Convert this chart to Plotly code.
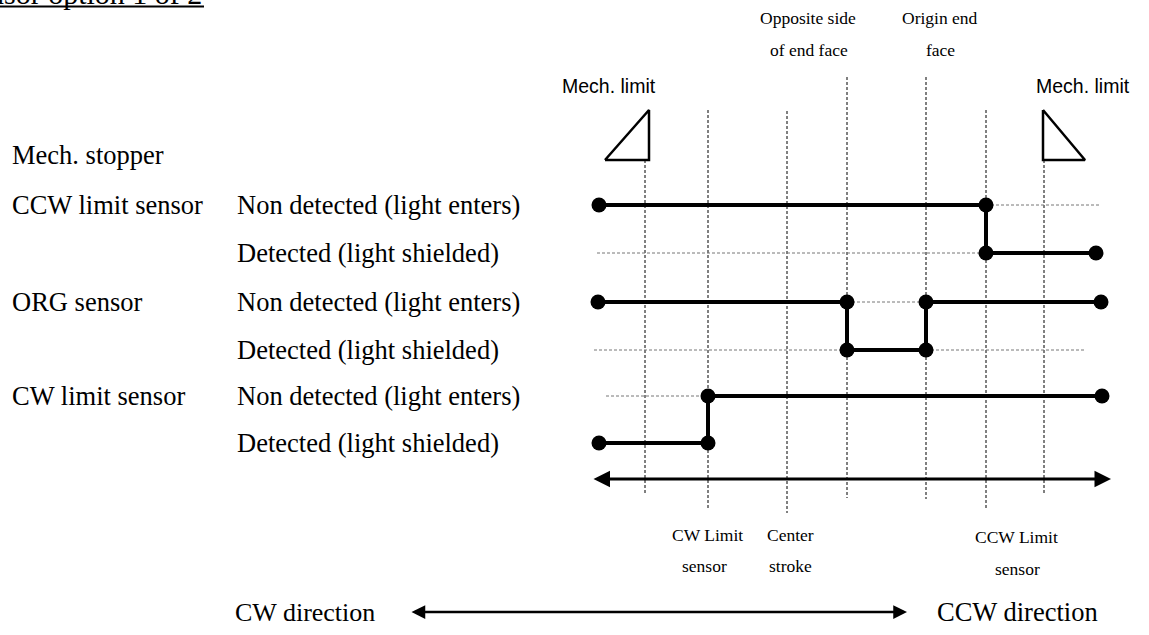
import plotly.graph_objects as go

# ---------------- data ----------------
title_text = "Sensor option 1 of 2"
row_labels = ["Mech. stopper", "CCW limit sensor", "ORG sensor", "CW limit sensor"]
row_label_y = [155, 205, 302, 396]
state_labels = ["Non detected (light enters)", "Detected (light shielded)"]

# reference positions along the stroke (vertical dashed lines)
ref_x = [645, 708, 787, 847, 926, 986, 1044]
ref_top = [160, 110, 111, 77, 77, 110, 160]
ref_bottom = [494, 509, 513, 498, 499, 509, 494]

# level of each sensor state
level_nd = [205, 302, 396]   # Non detected
level_d = [253, 350, 443]    # Detected

# waveforms: breakpoints along the stroke and state (1 = non detected, 0 = detected)
ccw_x = [599, 986, 986, 1096]
ccw_s = [1, 1, 0, 0]
org_x = [598, 847, 847, 926, 926, 1101]
org_s = [1, 1, 0, 0, 1, 1]
cw_x = [599, 708, 708, 1102]
cw_s = [0, 0, 1, 1]

# dotted guide lines: (sensor index, state, x from, x to)
guides = [(0, 1, 986, 1100), (0, 0, 597, 986),
          (1, 1, 847, 926), (1, 0, 594, 847), (1, 0, 926, 1086),
          (2, 1, 606, 708)]

# mechanical stopper triangles
tri_left_x = [605, 649, 649, 605]
tri_left_y = [160, 160, 110, 160]
tri_right_x = [1043, 1043, 1085, 1043]
tri_right_y = [110, 160, 160, 110]

top_labels = [("Opposite side", 808, 18), ("of end face", 809, 50),
              ("Origin end", 940, 18), ("face", 940, 50)]
bottom_labels = [("CW Limit", 707, 535), ("sensor", 704, 566),
                 ("Center", 790, 535), ("stroke", 790, 566),
                 ("CCW Limit", 1016, 537), ("sensor", 1017, 569)]
mech_labels = [("Mech. limit", 609, 86), ("Mech. limit", 1083, 86)]

stroke_arrow = (592, 1111, 479)
dir_arrow = (410, 907, 612)

SERIF = "Liberation Serif"
SANS = "Liberation Sans"

fig = go.Figure()

# vertical dashed reference lines
vx, vy = [], []
for x, t, b in zip(ref_x, ref_top, ref_bottom):
    vx += [x, x, None]
    vy += [t, b, None]
fig.add_trace(go.Scatter(x=vx, y=vy, mode="lines",
                         line=dict(color="black", width=1, dash="3px,2px"),
                         hoverinfo="skip"))

# horizontal gray dotted guides
gx, gy = [], []
for si, st, x0, x1 in guides:
    yy = level_nd[si] if st == 1 else level_d[si]
    gx += [x0, x1, None]
    gy += [yy, yy, None]
fig.add_trace(go.Scatter(x=gx, y=gy, mode="lines",
                         line=dict(color="#777777", width=1, dash="3px,2px"),
                         hoverinfo="skip"))

# triangles
for tx, ty in [(tri_left_x, tri_left_y), (tri_right_x, tri_right_y)]:
    fig.add_trace(go.Scatter(x=tx, y=ty, mode="lines", fill="toself",
                             fillcolor="white",
                             line=dict(color="black", width=2.5),
                             hoverinfo="skip"))

# waveforms
for i, (wx, ws) in enumerate([(ccw_x, ccw_s), (org_x, org_s), (cw_x, cw_s)]):
    wy = [level_nd[i] if s == 1 else level_d[i] for s in ws]
    fig.add_trace(go.Scatter(x=wx, y=wy, mode="lines+markers",
                             line=dict(color="black", width=4),
                             marker=dict(color="black", size=15),
                             hoverinfo="skip"))

ann = []
BIG = 26.5
SMALL = 17.5
# left labels
for txt, y in zip(row_labels, row_label_y):
    ann.append(dict(text=txt, x=10, y=y, xanchor="left", yanchor="middle",
                    font=dict(family=SERIF, size=BIG, color="black")))
for i in range(3):
    ann.append(dict(text=state_labels[0], x=235, y=level_nd[i], xanchor="left",
                    yanchor="middle", font=dict(family=SERIF, size=BIG, color="black")))
    ann.append(dict(text=state_labels[1], x=235, y=level_d[i], xanchor="left",
                    yanchor="middle", font=dict(family=SERIF, size=BIG, color="black")))
for txt, x, y in top_labels + bottom_labels:
    ann.append(dict(text=txt, x=x, y=y, xanchor="center", yanchor="middle",
                    font=dict(family=SERIF, size=SMALL, color="black")))
for txt, x, y in mech_labels:
    ann.append(dict(text=txt, x=x, y=y, xanchor="center", yanchor="middle",
                    font=dict(family=SANS, size=19.5, color="black")))
ann.append(dict(text="CW direction", x=233, y=dir_arrow[2], xanchor="left",
                yanchor="middle", font=dict(family=SERIF, size=26, color="black")))
ann.append(dict(text="CCW direction", x=935, y=dir_arrow[2], xanchor="left",
                yanchor="middle", font=dict(family=SERIF, size=26.5, color="black")))
ann.append(dict(text=title_text, x=204, y=12, xanchor="right", yanchor="bottom",
                font=dict(family=SERIF, size=30, color="black")))
for a in ann:
    a.update(xref="x", yref="y", showarrow=False)

# arrows
for (x0, x1, y), w in [(stroke_arrow, 3), (dir_arrow, 2.5)]:
    ann.append(dict(x=x1, y=y, ax=x0, ay=y, xref="x", yref="y", axref="x", ayref="y",
                    showarrow=True, arrowhead=2, arrowside="end+start",
                    arrowsize=1.1, arrowwidth=w, arrowcolor="black", text=""))

fig.update_layout(
    width=1149, height=635, margin=dict(l=0, r=0, t=0, b=0),
    paper_bgcolor="white", plot_bgcolor="white", showlegend=False,
    xaxis=dict(range=[0, 1149], visible=False, fixedrange=True),
    yaxis=dict(range=[635, 0], visible=False, fixedrange=True),
    annotations=ann,
    shapes=[dict(type="line", xref="x", yref="y", x0=0, x1=204, y0=6.5, y1=6.5,
                 line=dict(color="black", width=2))],
)

fig.write_html("out.html", config={"displayModeBar": False},
               post_script="document.body.style.margin='0';document.body.style.overflow='hidden';")
